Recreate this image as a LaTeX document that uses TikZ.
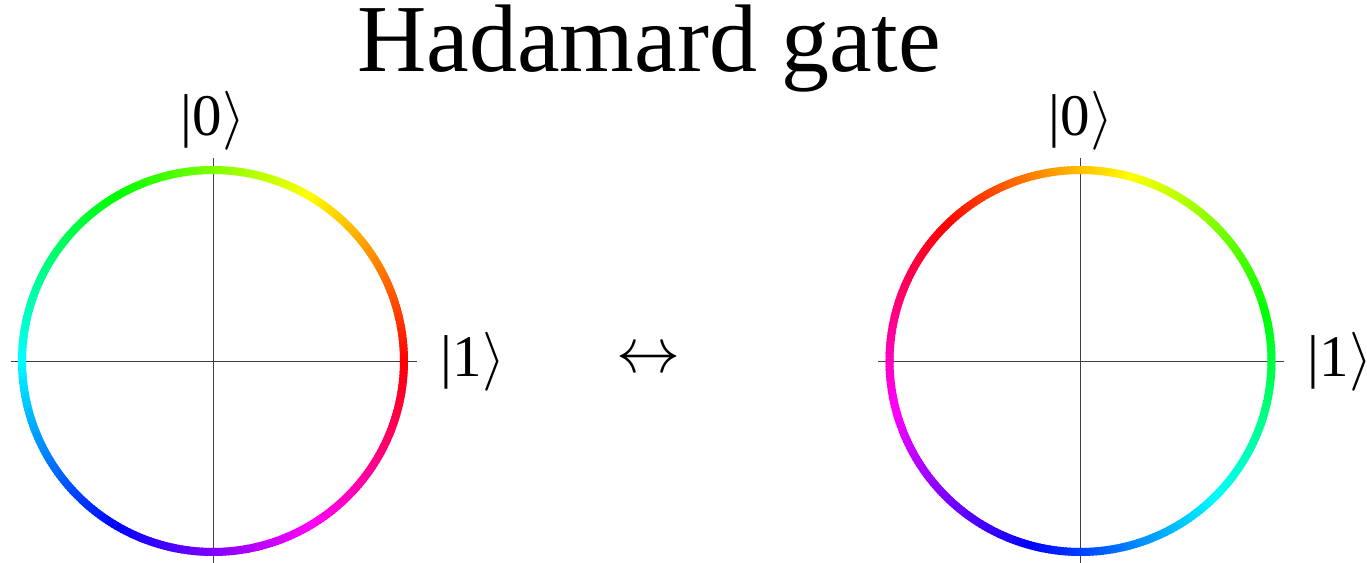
\RequirePackage{fix-cm}
\documentclass[tikz,border=0pt]{standalone}
\usepackage{fontspec}
\setmainfont{Liberation Serif}
\usetikzlibrary{calc}
\begin{document}
\begin{tikzpicture}[x=1pt,y=1pt,
  axis/.style={line width=0.9pt,black!75},
  lbl/.style={inner sep=0pt,font=\fontsize{59}{62}\selectfont},
  ring/.style={line width=8pt,line cap=butt}]
\useasboundingbox (0,0) rectangle (1367,562);
% centres
\coordinate (cL) at (213,201);
\coordinate (cR) at (1080.5,201);
% axes
\coordinate (lw) at (11,201); \coordinate (le) at (417,201);
\coordinate (ln) at (213,404); \coordinate (ls) at (213,-2);
\coordinate (rw) at (878,201); \coordinate (re) at (1284,201);
\coordinate (rn) at (1080.5,404); \coordinate (rs) at (1080.5,-2);
\draw[axis] (lw) -- (le); \draw[axis] (ln) -- (ls);
\draw[axis] (rw) -- (re); \draw[axis] (rn) -- (rs);
% coloured rings
\foreach \a in {0,...,359}{
  \pgfmathsetmacro\hL{mod(\a,360)/360}
  \pgfmathsetmacro\hR{mod(495-\a,360)/360}
  \definecolor{cl}{hsb}{\hL,1,1}
  \definecolor{cr}{hsb}{\hR,1,1}
  \draw[ring,cl] ($(cL)+(\a-0.6:191)$) arc[start angle=\a-0.6,end angle=\a+0.9,radius=191];
  \draw[ring,cr] ($(cR)+(\a-0.6:191)$) arc[start angle=\a-0.6,end angle=\a+0.9,radius=191];
}
% labels
\node[lbl] (l0) at (213,441) {|0$\rangle$};
\node[lbl] (l1) at (473,200) {|1$\rangle$};
\node[lbl] (r0) at (1081,441) {|0$\rangle$};
\node[lbl] (r1) at (1340,200) {|1$\rangle$};
\node[inner sep=0pt,font=\fontsize{64}{66}\selectfont] (arr) at (648.5,201) {$\leftrightarrow$};
\node[inner sep=0pt,anchor=base,font=\fontsize{96}{100}\selectfont] (title) at (649,490) {Hadamard gate};
\end{tikzpicture}
\end{document}
